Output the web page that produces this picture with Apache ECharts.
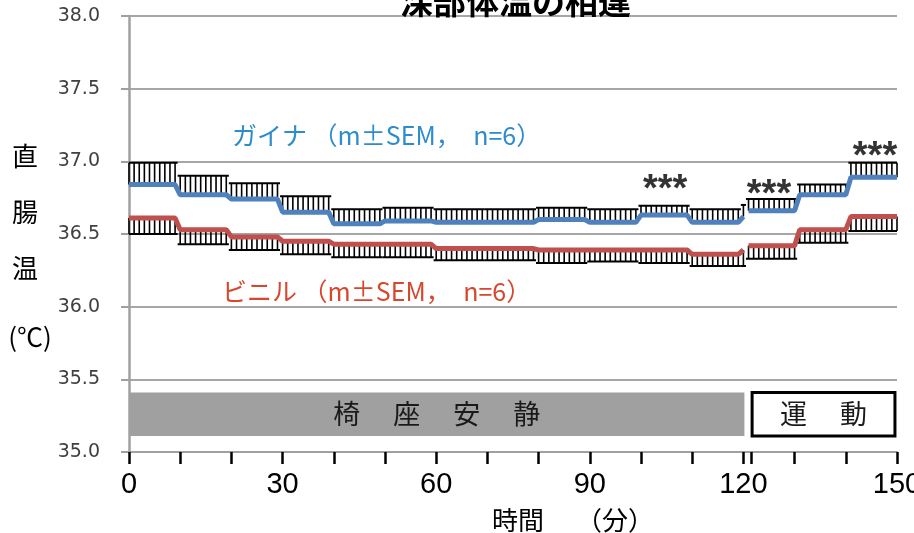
<!DOCTYPE html>
<html>
<head>
<meta charset="utf-8">
<script src="https://cdn.jsdelivr.net/npm/echarts@6/dist/echarts.min.js"></script>
<style>
html, body { margin: 0; padding: 0; background: #fff; }
#chart { width: 914px; height: 533px; }
</style>
</head>
<body>
<div id="chart"></div>
<script>
// 10-minute blocks (minutes), the single 120-min reading, then the exercise blocks
var segStart = [0, 10, 20, 30, 40, 50, 60, 70, 80, 90, 100, 110, 120, 121, 131, 141];
var segEnd   = [9, 19, 29, 39, 49, 59, 69, 79, 89, 99, 109, 119, 120, 130, 140, 150];
var gapAfter = 120;

var gainaMean = [36.84, 36.77, 36.74, 36.65, 36.57, 36.59, 36.58, 36.58, 36.60, 36.58, 36.63, 36.58, 36.62, 36.66, 36.77, 36.89];
var gainaSem  = [0.15, 0.13, 0.11, 0.11, 0.10, 0.09, 0.09, 0.09, 0.08, 0.09, 0.065, 0.09, 0.08, 0.08, 0.07, 0.10];
var vinylMean = [36.61, 36.53, 36.48, 36.45, 36.43, 36.43, 36.40, 36.40, 36.39, 36.39, 36.39, 36.36, 36.39, 36.42, 36.53, 36.62];
var vinylSem  = [0.11, 0.10, 0.09, 0.09, 0.09, 0.09, 0.08, 0.08, 0.09, 0.08, 0.09, 0.08, 0.11, 0.09, 0.09, 0.10];

var xTickValues = [0, 10, 20, 30, 40, 50, 60, 70, 80, 90, 100, 110, 120, 121.5, 130, 140, 150];
var xLabelValues = [0, 30, 60, 90, 120, 150];

var phaseNames = ['椅　 座　 安　 静', '運　 動'];
var phaseFrom = [0, 121.7];
var phaseTo = [120.2, 149.6];
var phaseLow = 35.11, phaseHigh = 35.41;

var sigMarks = [[104.7, 36.86], [125, 36.83], [145.7, 37.09]];

var cjk = '"Noto Sans CJK JP", "Noto Sans CJK SC", sans-serif';

function stepLine(mean) {
  var pts = [];
  for (var i = 0; i < segStart.length; i++) {
    if (i > 0 && segEnd[i - 1] === gapAfter) pts.push([gapAfter + 0.5, '-']);
    pts.push([segStart[i], mean[i]]);
    if (segEnd[i] !== segStart[i]) pts.push([segEnd[i], mean[i]]);
  }
  return pts;
}

function barData(mean, sem, dir) {
  return segStart.map(function (s, i) { return [s, segEnd[i], mean[i], dir * sem[i]]; });
}

function renderHatch(params, api) {
  var s = api.value(0), e = api.value(1), m = api.value(2), d = api.value(3);
  var y0 = api.coord([s, m])[1];
  var y1 = api.coord([s, m + d])[1];
  var kids = [];
  for (var t = s; t <= e; t++) {
    var x = api.coord([t, m])[0];
    kids.push({ type: 'line', shape: { x1: x, y1: y0, x2: x, y2: y1 }, style: { stroke: '#000', lineWidth: 1.6 } });
  }
  var cx0 = api.coord([Math.max(0, s - 0.5), m])[0];
  var cx1 = api.coord([Math.min(150, e + 0.5), m])[0];
  kids.push({ type: 'line', shape: { x1: cx0, y1: y1, x2: cx1, y2: y1 }, style: { stroke: '#000', lineWidth: 2 } });
  return { type: 'group', children: kids };
}

var chart = echarts.init(document.getElementById('chart'));

var phaseAreas = phaseNames.map(function (name, i) {
  var first = i === 0;
  return [{
    xAxis: phaseFrom[i], yAxis: phaseLow,
    itemStyle: first ? { color: '#a0a0a0' } : { color: '#fff', borderColor: '#000', borderWidth: 3 },
    label: { show: true, position: 'inside', formatter: name, color: '#1a1a1a', fontSize: 27, fontFamily: cjk }
  }, { xAxis: phaseTo[i], yAxis: phaseHigh }];
});

var option = {
  animation: false,
  title: {
    text: '深部体温の相違',
    left: 395, top: -20,
    textStyle: { fontSize: 33, fontWeight: 'bold', color: '#000', fontFamily: cjk }
  },
  grid: { left: 129, right: 17, top: 16, bottom: 81, outerBoundsMode: 'none', containLabel: false },
  xAxis: {
    type: 'value', min: 0, max: 150,
    axisLine: { show: true, lineStyle: { color: '#a0a0a0', width: 2 } },
    axisTick: { show: true, length: 12, customValues: xTickValues, lineStyle: { color: '#000', width: 2.5 } },
    axisLabel: { customValues: xLabelValues, margin: 18, color: '#000', fontSize: 29, fontFamily: '"Liberation Sans Narrow", "Liberation Sans", sans-serif' },
    splitLine: { show: false },
    name: '時間　 （分）', nameLocation: 'middle', nameGap: 55,
    nameTextStyle: { fontSize: 26, color: '#000', fontFamily: cjk, padding: [0, 0, 0, 120] }
  },
  yAxis: {
    type: 'value', min: 35, max: 38, interval: 0.5,
    axisLine: { show: true, lineStyle: { color: '#a0a0a0', width: 2.5 } },
    axisTick: { show: true, length: 8, lineStyle: { color: '#a0a0a0', width: 2 } },
    axisLabel: { margin: 29, color: '#404040', fontSize: 19, fontFamily: '"DejaVu Sans", sans-serif',
      formatter: function (v) { return v.toFixed(1); } },
    splitLine: { show: true, lineStyle: { color: '#a6a6a6', width: 2 } }
  },
  graphic: [
    { type: 'text', x: 25, y: 156, style: { text: '直', fill: '#000', font: '26px ' + cjk, textAlign: 'center', textVerticalAlign: 'middle' } },
    { type: 'text', x: 25, y: 212, style: { text: '腸', fill: '#000', font: '26px ' + cjk, textAlign: 'center', textVerticalAlign: 'middle' } },
    { type: 'text', x: 25, y: 268, style: { text: '温', fill: '#000', font: '26px ' + cjk, textAlign: 'center', textVerticalAlign: 'middle' } },
    { type: 'text', x: 30, y: 337, style: { text: '(℃)', fill: '#000', font: '26px ' + cjk, textAlign: 'center', textVerticalAlign: 'middle' } },
    { type: 'text', x: 232, y: 135, style: { text: 'ガイナ （m±SEM，　n=6）', fill: '#2d8ccb', font: '25px ' + cjk, textAlign: 'left', textVerticalAlign: 'middle' } },
    { type: 'text', x: 222, y: 291, style: { text: 'ビニル （m±SEM，　n=6）', fill: '#d6472e', font: '25px ' + cjk, textAlign: 'left', textVerticalAlign: 'middle' } }
  ],
  series: [
    {
      name: 'ガイナ hatch', type: 'custom', renderItem: renderHatch, z: 3,
      data: barData(gainaMean, gainaSem, 1)
    },
    {
      name: 'ビニル hatch', type: 'custom', renderItem: renderHatch, z: 3,
      data: barData(vinylMean, vinylSem, -1)
    },
    {
      name: 'ガイナ', type: 'line', data: stepLine(gainaMean), z: 5,
      symbol: 'none', connectNulls: false,
      lineStyle: { color: '#4f81bd', width: 5 },
      markArea: { silent: true, data: phaseAreas }
    },
    {
      name: 'ビニル', type: 'line', data: stepLine(vinylMean), z: 5,
      symbol: 'none', connectNulls: false,
      lineStyle: { color: '#c0504d', width: 5 }
    },
    {
      name: 'sig', type: 'scatter', data: sigMarks, symbolSize: 1, z: 6,
      itemStyle: { color: 'rgba(0,0,0,0)' },
      label: { show: true, position: 'inside', offset: [0, 9], formatter: '***', color: '#000', fontWeight: 'bold', fontSize: 38, fontFamily: '"Liberation Sans", sans-serif' }
    }
  ]
};

chart.setOption(option);
</script>
</body>
</html>
